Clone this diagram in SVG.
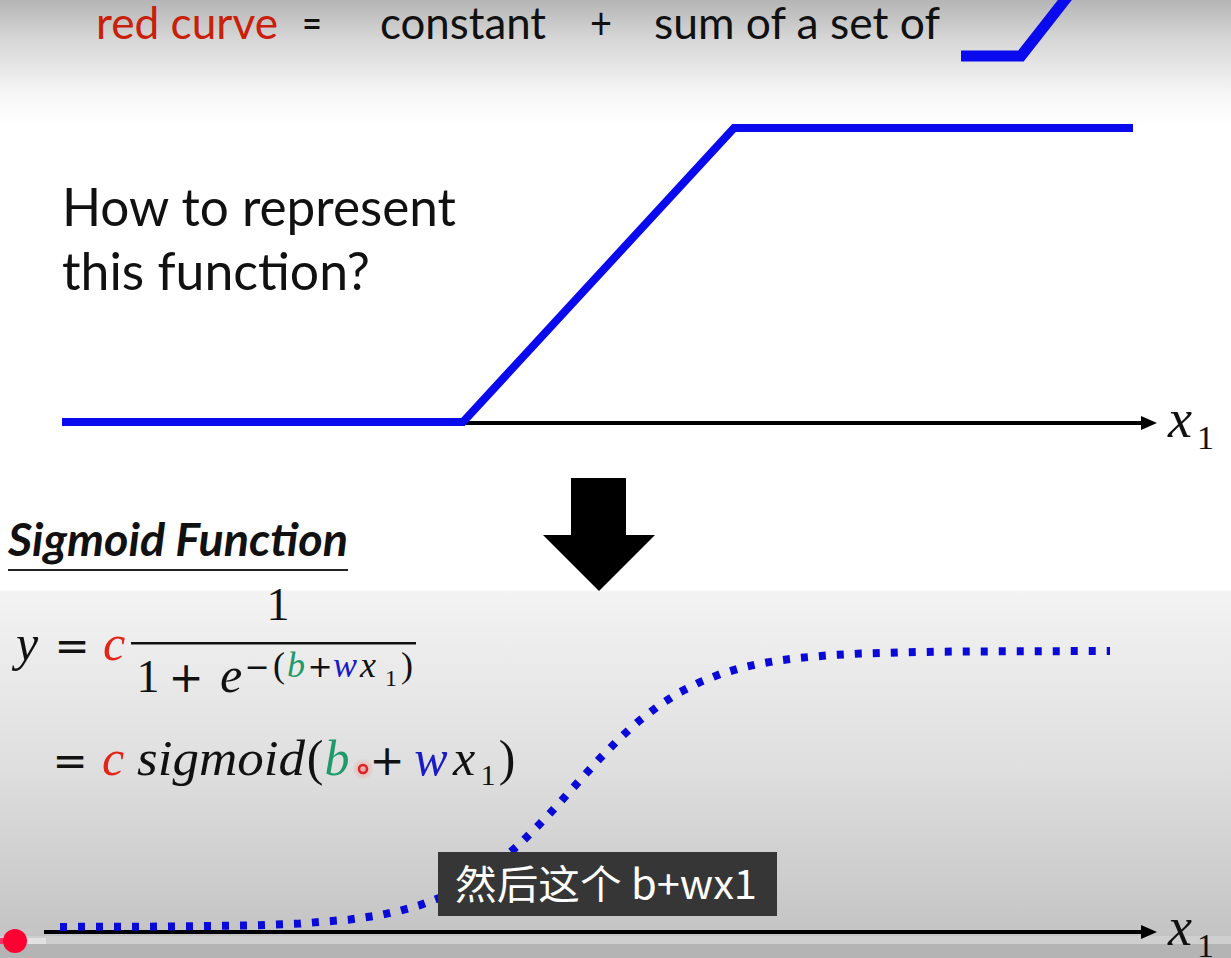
<svg xmlns="http://www.w3.org/2000/svg" width="1231" height="958" viewBox="0 0 1231 958">
<defs>
<linearGradient id="bg" x1="0" y1="0" x2="0" y2="958" gradientUnits="userSpaceOnUse">
<stop offset="0" stop-color="#b5b5b5"/>
<stop offset="0.04" stop-color="#d6d6d6"/>
<stop offset="0.10" stop-color="#f7f7f7"/>
<stop offset="0.13" stop-color="#ffffff"/>
<stop offset="0.615" stop-color="#ffffff"/>
<stop offset="0.618" stop-color="#f3f3f3"/>
<stop offset="0.80" stop-color="#dfdfdf"/>
<stop offset="0.975" stop-color="#c4c4c4"/>
<stop offset="1" stop-color="#b8b8b8"/>
</linearGradient>
<marker id="ah" viewBox="0 0 16 14" refX="0" refY="7" markerWidth="16" markerHeight="14" markerUnits="userSpaceOnUse" orient="auto">
<path d="M0,0 L16,7 L0,14 Z" fill="#000"/>
</marker>
<radialGradient id="glow"><stop offset="0" stop-color="#f08080" stop-opacity="0.6"/><stop offset="1" stop-color="#f08080" stop-opacity="0"/></radialGradient>
</defs>
<style>
.cal{font-family:Lato,"Liberation Sans",sans-serif;fill:#111}
.m{font-family:"Liberation Serif",serif;fill:#111}
.op{font-family:"DejaVu Sans",sans-serif;fill:#111}
.i{font-style:italic}
.red{fill:#e32418}
.grn{fill:#1e9a6c}
.blu{fill:#1a1ac8}
.ramp{fill:none;stroke:#0a0aee;stroke-width:8}
.axis{stroke:#000;stroke-width:4;fill:none}
.c{text-anchor:middle}
</style>
<rect x="0" y="0" width="1231" height="958" fill="url(#bg)"/>
<rect x="0" y="936" width="1231" height="8" fill="#cfcfcf"/>
<rect x="0" y="944" width="1231" height="14" fill="#b4b4b4"/>

<g id="title">
<text class="cal" x="96" y="39" font-size="44" style="fill:#c8200a" textLength="182" lengthAdjust="spacingAndGlyphs">red curve</text>
<text class="cal" x="302" y="39" font-size="44" textLength="20" lengthAdjust="spacingAndGlyphs">=</text>
<text class="cal" x="380" y="39" font-size="44" textLength="166" lengthAdjust="spacingAndGlyphs">constant</text>
<text class="cal" x="590" y="39" font-size="44" textLength="22" lengthAdjust="spacingAndGlyphs">+</text>
<text class="cal" x="654" y="39" font-size="44" textLength="286" lengthAdjust="spacingAndGlyphs">sum of a set of</text>
<path d="M961,56 L1021,56 L1068,-4" fill="none" stroke="#0a0aee" stroke-width="11"/>
</g>

<g id="question">
<text class="cal" x="62" y="226" font-size="52" textLength="394" lengthAdjust="spacingAndGlyphs">How to represent</text>
<text class="cal" x="62" y="290" font-size="52" textLength="308" lengthAdjust="spacingAndGlyphs">this function?</text>
</g>

<g id="connectors">
<line class="axis" x1="462" y1="423" x2="1141" y2="423" marker-end="url(#ah)"/>
<line class="axis" x1="44" y1="932" x2="1141" y2="932" marker-end="url(#ah)"/>
</g>

<g id="ramp">
<path class="ramp" d="M62,422 L463,422 L734,128 L1133,128"/>
</g>

<g id="axis-label-top">
<text class="m i" x="1168" y="437" font-size="54">x</text>
<text class="m" x="1197" y="449" font-size="34">1</text>
</g>

<g id="down-arrow">
<polygon points="571,478 626,478 626,535 655,535 599,591 543,535 571,535" fill="#000"/>
</g>

<g id="sigmoid-title">
<text class="cal i" x="8" y="556" font-size="46" font-weight="bold" textLength="340" lengthAdjust="spacingAndGlyphs">Sigmoid Function</text>
<rect x="8" y="569" width="340" height="2" fill="#222"/>
</g>

<g id="formula">
<text class="m i c" x="27" y="660" font-size="50">y</text>
<text class="op c" x="72" y="660" font-size="42">=</text>
<text class="m i c red" x="114" y="660" font-size="50">c</text>
<text class="m c" x="278" y="620" font-size="46">1</text>
<rect x="131" y="642" width="285" height="2.5" fill="#111"/>
<text class="m c" x="148" y="692" font-size="46">1</text>
<text class="op c" x="186" y="692" font-size="42">+</text>
<text class="m i c" x="231" y="692" font-size="50">e</text>
<text class="op c" x="257" y="677" font-size="30">−</text>
<text class="m c" x="279" y="677" font-size="36">(</text>
<text class="m i c grn" x="296" y="677" font-size="36">b</text>
<text class="op c" x="320" y="677" font-size="30">+</text>
<text class="m i c blu" x="345" y="677" font-size="36">w</text>
<text class="m i c" x="368" y="677" font-size="36">x</text>
<text class="m c" x="391" y="686" font-size="24">1</text>
<text class="m c" x="407" y="677" font-size="36">)</text>

<text class="op c" x="70" y="775" font-size="42">=</text>
<text class="m i c red" x="113" y="775" font-size="50">c</text>
<text class="m i" x="137" y="775" font-size="50" textLength="168" lengthAdjust="spacingAndGlyphs">sigmoid</text>
<text class="m c" x="315" y="775" font-size="50">(</text>
<text class="m i c grn" x="337" y="775" font-size="50">b</text>
<text class="op c" x="387" y="775" font-size="42">+</text>
<text class="m i c blu" x="431" y="775" font-size="50">w</text>
<text class="m i c" x="464" y="775" font-size="50">x</text>
<text class="m c" x="488" y="785" font-size="30">1</text>
<text class="m c" x="507" y="775" font-size="50">)</text>
<circle cx="363" cy="769" r="11" fill="url(#glow)"/>
<circle cx="363" cy="769" r="4" fill="none" stroke="#e02020" stroke-width="2.5"/>
</g>

<g id="sigmoid-curve">
<polyline fill="none" stroke="#0a0ad8" stroke-width="8" stroke-dasharray="7 11" points="60,926.9 150,926.7 250,925.5 300,923.6 350,919.5 380,915.1 400,910.8 420,905.1 440,897.7 460,888.1 480,876 500,861.2 520,843.7 540,823.8 550,813.2 560,802.3 572,789 580,780.1 600,758.3 620,738.1 630,728.8 640,720.1 660,704.8 680,692.1 700,682.1 720,674.2 740,668.2 760,663.7 780,660.3 800,657.8 830,655.2 860,653.6 900,652.4 940,651.7 1000,651.3 1110,651"/>
</g>

<g id="axis-label-bottom">
<text class="m i" x="1168" y="945" font-size="54">x</text>
<text class="m" x="1197" y="957" font-size="34">1</text>
</g>

<g id="caption">
<rect x="438" y="852" width="339" height="64" fill="#363636"/>
<text x="455" y="899" font-size="40" fill="#fff" font-family="'Noto Sans CJK SC','Noto Sans',sans-serif" textLength="302" lengthAdjust="spacingAndGlyphs">然后这个 b+wx1</text>
</g>

<g id="progress">
<rect x="0" y="938" width="46" height="6" fill="#e2e2e2"/>
<rect x="0" y="938" width="6" height="6" fill="#ff3366"/>
<circle cx="15" cy="941" r="12" fill="#ff0033"/>
</g>
</svg>
